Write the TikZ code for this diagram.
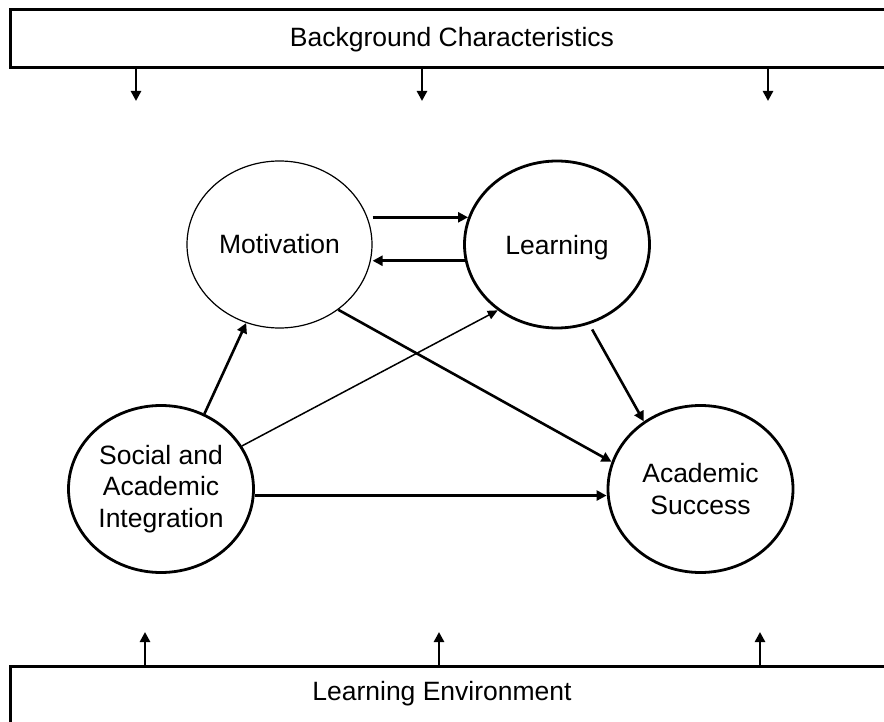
\documentclass[tikz,border=0pt]{standalone}
\usepackage{fontspec}
\setmainfont{Liberation Sans}
\usetikzlibrary{shapes.geometric,arrows.meta}
\begin{document}
\begin{tikzpicture}[x=1pt,y=-1pt,
  every node/.style={font=\fontsize{26.5}{31.5}\selectfont, align=center},
  bubble/.style={ellipse, draw, line width=2.8pt, minimum width=185pt, minimum height=167pt, inner sep=0pt},
  thinbubble/.style={bubble, line width=1.2pt},
  bar/.style={draw, line width=3pt, minimum height=58pt, minimum width=940pt, inner sep=0pt},
  arr/.style={line width=2.6pt, -{Triangle[length=10pt,width=10pt]}},
  tarr/.style={line width=1.5pt, -{Triangle[length=10pt,width=9pt]}}
]
\useasboundingbox (0,0) rectangle (884,722);
\node[bar] (bg) at (480,39) {};
\node (bgt) at (452,40) {Background Characteristics};
\node[bar] (env) at (480,695) {};
\node (envt) at (442,694) {Learning Environment};
\node[thinbubble] (mot) at (279.5,244.5) {Motivation};
\node[bubble, text depth=0pt] (learn) at (557,244.5) {Learning};
\node[bubble] (soc) at (161,489) {Social and\\Academic\\Integration};
\node[bubble] (acad) at (700.5,489) {Academic\\Success};
% top arrows
\coordinate (t1) at (136,101);
\coordinate (t2) at (422,101);
\coordinate (t3) at (768,101);
\draw[arr] (bg.south -| t1) -- (t1);
\draw[arr] (bg.south -| t2) -- (t2);
\draw[arr] (bg.south -| t3) -- (t3);
% bottom arrows
\coordinate (b1) at (145,632);
\coordinate (b2) at (439,632);
\coordinate (b3) at (760,632);
\draw[arr] (env.north -| b1) -- (b1);
\draw[arr] (env.north -| b2) -- (b2);
\draw[arr] (env.north -| b3) -- (b3);
% links
\draw[arr] (mot.east |- learn.163.5) -- (learn.163.5);
\draw[arr] (learn.190.6) -- (mot.east |- learn.190.6);
\draw[arr] (soc.60.8) -- (mot.-113.2);
\draw[tarr] (soc.28.5) -- (learn.228.6);
\draw[arr] (mot.-48.9) -- (acad.163.1);
\draw[arr, shorten <=6pt] (learn.-68) -- (acad.130.7);
\draw[arr] (soc.-4.4) -- (soc.-4.4 -| acad.west);
\end{tikzpicture}
\end{document}
